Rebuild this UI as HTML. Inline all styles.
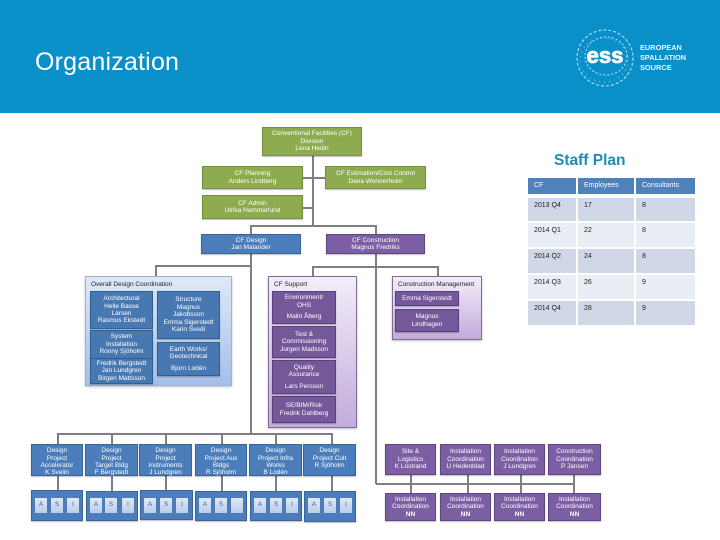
<!DOCTYPE html>
<html><head><meta charset="utf-8"><style>
html,body{margin:0;padding:0}
body{width:720px;height:540px;position:relative;overflow:hidden;background:#fff;font-family:"Liberation Sans",sans-serif}
#w{position:absolute;left:0;top:0;width:720px;height:540px;overflow:hidden;filter:blur(.35px)}
.b{position:absolute;box-sizing:border-box;display:flex;flex-direction:column;align-items:center;justify-content:center;text-align:center;color:#fff;font-size:6.5px;line-height:7.4px;white-space:nowrap;box-shadow:0 1px 1px rgba(0,0,0,.25)}
.g{background:#8eab4f;border:1px solid #76913c}
.bl{background:#4a7db9;border:1px solid #3a6599}
.p{background:#7c5ea3;border:1px solid #5f4682}
.lg{background:#4878b2;border:1.5px solid #2f5f93}
.lp{background:#75589a;border:1.5px solid #58407a}
.l{position:absolute;background:#7f7f7f}
.pan{position:absolute;box-sizing:border-box;color:#222;font-size:6.5px;padding:4px 5px;box-shadow:0 1px 2px rgba(0,0,0,.25)}
.pb{background:linear-gradient(#dfe9f8,#a3bfe9);border:1px solid #9db3cf}
.pp{background:linear-gradient(#f3edf9,#c2acdc);border:1px solid #7f6d98}
.s{position:absolute;background:linear-gradient(#e0e8f5,#b9cdea);color:#2f5a90;width:12px;height:15px;top:498px;font-size:6px;line-height:15px;text-align:center}
.c{position:absolute;box-sizing:border-box;font-size:7px;color:#222;padding:4px 0 0 6px}
.h{background:#4f81bd;color:#fff}.o{background:#d0d8e8}.e{background:#e9edf4}
.t4{padding-top:4px}
.sp{display:block;height:4px}
</style></head><body><div id="w">
<div style="position:absolute;left:0;top:0;width:720px;height:113px;background:#0a90c9"></div>
<div style="position:absolute;left:35px;top:47px;font-size:25px;line-height:30px;letter-spacing:.2px;color:#fff">Organization</div>
<svg style="position:absolute;left:570px;top:24px" width="130" height="70" viewBox="570 24 130 70">
<g fill="none" stroke="#bfe6f6">
<ellipse cx="605" cy="58" rx="28" ry="28" stroke-width="1" stroke-dasharray="3 2"/>
<ellipse cx="606" cy="56" rx="21" ry="19" stroke-width="1" stroke-dasharray="2 2"/>
<ellipse cx="604" cy="60" rx="24" ry="22" stroke-width=".7" stroke-dasharray="1 4"/>
</g>
<text x="605" y="63" text-anchor="middle" font-family="Liberation Sans" font-weight="bold" font-size="22" fill="#fff" stroke="#fff" stroke-width=".8" textLength="37" lengthAdjust="spacingAndGlyphs">ess</text>
<g font-family="Liberation Sans" font-size="7.4" fill="#e8f6fc" font-weight="bold">
<text x="640" y="50">EUROPEAN</text><text x="640" y="60">SPALLATION</text><text x="640" y="70">SOURCE</text></g>
</svg>

<!-- connectors -->
<div class="l" style="left:312px;top:155px;width:2px;height:71px"></div>
<div class="l" style="left:303px;top:177px;width:23px;height:1.5px"></div>
<div class="l" style="left:303px;top:207px;width:10px;height:1.5px"></div>
<div class="l" style="left:250px;top:225px;width:126px;height:2px"></div>
<div class="l" style="left:250px;top:225px;width:2px;height:9px"></div>
<div class="l" style="left:375px;top:225px;width:2px;height:9px"></div>
<div class="l" style="left:250px;top:254px;width:2px;height:179px"></div>
<div class="l" style="left:155px;top:265px;width:97px;height:1.5px"></div>
<div class="l" style="left:155px;top:265px;width:1.5px;height:11px"></div>
<div class="l" style="left:375px;top:254px;width:2px;height:230px"></div>
<div class="l" style="left:312px;top:266px;width:126px;height:1.5px"></div>
<div class="l" style="left:312px;top:266px;width:1.5px;height:10px"></div>
<div class="l" style="left:437px;top:266px;width:1.5px;height:10px"></div>
<div class="l" style="left:57px;top:433px;width:275px;height:1.5px"></div>
<div class="l" style="left:57px;top:433px;width:1.5px;height:58px"></div>
<div class="l" style="left:111px;top:433px;width:1.5px;height:58px"></div>
<div class="l" style="left:165px;top:433px;width:1.5px;height:58px"></div>
<div class="l" style="left:221px;top:433px;width:1.5px;height:58px"></div>
<div class="l" style="left:275px;top:433px;width:1.5px;height:58px"></div>
<div class="l" style="left:331px;top:433px;width:1.5px;height:58px"></div>
<div class="l" style="left:376px;top:483px;width:198px;height:1.5px"></div>
<div class="l" style="left:410px;top:475px;width:2px;height:18px"></div>
<div class="l" style="left:467px;top:475px;width:1.5px;height:18px"></div>
<div class="l" style="left:520px;top:475px;width:1.5px;height:18px"></div>
<div class="l" style="left:573px;top:475px;width:1.5px;height:18px"></div>

<!-- top boxes -->
<div class="b g" style="left:262px;top:127px;width:100px;height:29px">Conventional Facilities (CF)<br>Division<br>Lena Hedin</div>
<div class="b g" style="left:202px;top:166px;width:101px;height:23px">CF Planning<br>Anders Lindberg</div>
<div class="b g" style="left:325px;top:166px;width:101px;height:23px">CF Estimation/Cost Control<br>Dana Wennerholm</div>
<div class="b g" style="left:202px;top:195px;width:101px;height:24px">CF Admin<br>Ulrika Hammarlund</div>
<div class="b bl" style="left:201px;top:234px;width:100px;height:20px">CF Design<br>Jan Malander</div>
<div class="b p" style="left:326px;top:234px;width:99px;height:20px">CF Construction<br>Magnus Fredriks</div>

<!-- overall design -->
<div class="pan pb" style="left:85px;top:276px;width:147px;height:110px">Overall Design Coordination</div>
<div class="b lg" style="left:90px;top:291px;width:63px;height:38px">Architectural<br>Helle Basse<br>Larsen<br>Rasmus Ekstedt</div>
<div class="b lg" style="left:90px;top:330px;width:63px;height:29px">System<br>Installation<br>Ronny Sjöholm</div>
<div class="b lg" style="left:90px;top:358px;width:63px;height:26px">Fredrik Bergstedt<br>Jan Lundgren<br>Birgen Mattsson</div>
<div class="b lg" style="left:157px;top:291px;width:63px;height:48px">Structure<br>Magnus<br>Jakobsson<br>Emma Sigerstedt<br>Karin Svedi</div>
<div class="b lg" style="left:157px;top:342px;width:63px;height:34px">Earth Works/<br>Geotechnical<span class="sp"></span>Bjorn Lodén</div>

<!-- CF support -->
<div class="pan pp" style="left:268px;top:276px;width:89px;height:152px">CF Support</div>
<div class="b lp" style="left:272px;top:291px;width:64px;height:33px">Environment/<br>OHS<span class="sp"></span>Malin Åberg</div>
<div class="b lp" style="left:272px;top:326px;width:64px;height:32px">Test &amp;<br>Commissioning<br>Jorgen Madsson</div>
<div class="b lp" style="left:272px;top:360px;width:64px;height:34px">Quality<br>Assurance<span class="sp"></span>Lars Persson</div>
<div class="b lp" style="left:272px;top:396px;width:64px;height:27px">SE/BIM/Risk<br>Fredrik Dahlberg</div>

<!-- construction mgmt -->
<div class="pan pp" style="left:392px;top:276px;width:90px;height:64px">Construction Management</div>
<div class="b lp" style="left:395px;top:291px;width:64px;height:15px">Emma Sigerstedt</div>
<div class="b lp" style="left:395px;top:309px;width:64px;height:23px">Magnus<br>Lindhagen</div>

<!-- design projects -->
<div class="b bl t4" style="left:31px;top:444px;width:52px;height:32px">Design<br>Project<br>Accelerator<br>K Svelin</div>
<div class="b bl t4" style="left:85px;top:444px;width:53px;height:32px">Design<br>Project<br>Target Bldg<br>F Bergstedt</div>
<div class="b bl t4" style="left:139px;top:444px;width:53px;height:32px">Design<br>Project<br>Instruments<br>J Lundgren</div>
<div class="b bl t4" style="left:195px;top:444px;width:52px;height:32px">Design<br>Project Aux<br>Bldgs<br>R Sjöholm</div>
<div class="b bl t4" style="left:249px;top:444px;width:53px;height:32px">Design<br>Project Infra<br>Works<br>B Lodén</div>
<div class="b bl t4" style="left:303px;top:444px;width:53px;height:32px">Design<br>Project Cult<br>R Sjöholm<br>&nbsp;</div>

<div class="b bl" style="left:31px;top:490px;width:52px;height:31px"></div>
<div class="b bl" style="left:86px;top:491px;width:52px;height:30px"></div>
<div class="b bl" style="left:140px;top:490px;width:53px;height:30px"></div>
<div class="b bl" style="left:195px;top:491px;width:52px;height:30px"></div>
<div class="b bl" style="left:250px;top:491px;width:52px;height:30px"></div>
<div class="b bl" style="left:304px;top:491px;width:52px;height:31px"></div>
<div class="s" style="left:35px">A</div><div class="s" style="left:51px">S</div><div class="s" style="left:67px">I</div>
<div class="s" style="left:90px">A</div><div class="s" style="left:105px">S</div><div class="s" style="left:122px">I</div>
<div class="s" style="left:144px">A</div><div class="s" style="left:160px">S</div><div class="s" style="left:176px">I</div>
<div class="s" style="left:199px">A</div><div class="s" style="left:215px">S</div><div class="s" style="left:231px"></div>
<div class="s" style="left:254px">A</div><div class="s" style="left:270px">S</div><div class="s" style="left:286px">I</div>
<div class="s" style="left:308px">A</div><div class="s" style="left:324px">S</div><div class="s" style="left:340px">I</div>

<!-- construction row -->
<div class="b p" style="left:385px;top:444px;width:51px;height:31px">Site &amp;<br>Logistics<br>K Lostrand</div>
<div class="b p" style="left:440px;top:444px;width:51px;height:31px">Installation<br>Coordination<br>U Hedenblad</div>
<div class="b p" style="left:494px;top:444px;width:51px;height:31px">Installation<br>Coordination<br>J Lundgren</div>
<div class="b p" style="left:548px;top:444px;width:53px;height:31px">Construction<br>Coordination<br>P Jansen</div>
<div class="b p" style="left:385px;top:493px;width:51px;height:28px">Installation<br>Coordination<br><b>NN</b></div>
<div class="b p" style="left:440px;top:493px;width:51px;height:28px">Installation<br>Coordination<br><b>NN</b></div>
<div class="b p" style="left:494px;top:493px;width:51px;height:28px">Installation<br>Coordination<br><b>NN</b></div>
<div class="b p" style="left:548px;top:493px;width:53px;height:28px">Installation<br>Coordination<br><b>NN</b></div>

<!-- table -->
<div style="position:absolute;left:554px;top:152px;font-size:15.5px;line-height:18px;font-weight:bold;color:#1f8db3">Staff Plan</div>
<div class="c h" style="left:528px;top:178px;width:48px;height:16px">CF</div>
<div class="c h" style="left:578px;top:178px;width:56px;height:16px">Employees</div>
<div class="c h" style="left:636px;top:178px;width:59px;height:16px">Consultants</div>
<div class="c o" style="left:528px;top:198px;width:48px;height:23px">2013 Q4</div>
<div class="c o" style="left:578px;top:198px;width:56px;height:23px">17</div>
<div class="c o" style="left:636px;top:198px;width:59px;height:23px">8</div>
<div class="c e" style="left:528px;top:223px;width:48px;height:24px">2014 Q1</div>
<div class="c e" style="left:578px;top:223px;width:56px;height:24px">22</div>
<div class="c e" style="left:636px;top:223px;width:59px;height:24px">8</div>
<div class="c o" style="left:528px;top:249px;width:48px;height:24px">2014 Q2</div>
<div class="c o" style="left:578px;top:249px;width:56px;height:24px">24</div>
<div class="c o" style="left:636px;top:249px;width:59px;height:24px">8</div>
<div class="c e" style="left:528px;top:275px;width:48px;height:24px">2014 Q3</div>
<div class="c e" style="left:578px;top:275px;width:56px;height:24px">26</div>
<div class="c e" style="left:636px;top:275px;width:59px;height:24px">9</div>
<div class="c o" style="left:528px;top:301px;width:48px;height:24px">2014 Q4</div>
<div class="c o" style="left:578px;top:301px;width:56px;height:24px">28</div>
<div class="c o" style="left:636px;top:301px;width:59px;height:24px">9</div>
</div></body></html>
